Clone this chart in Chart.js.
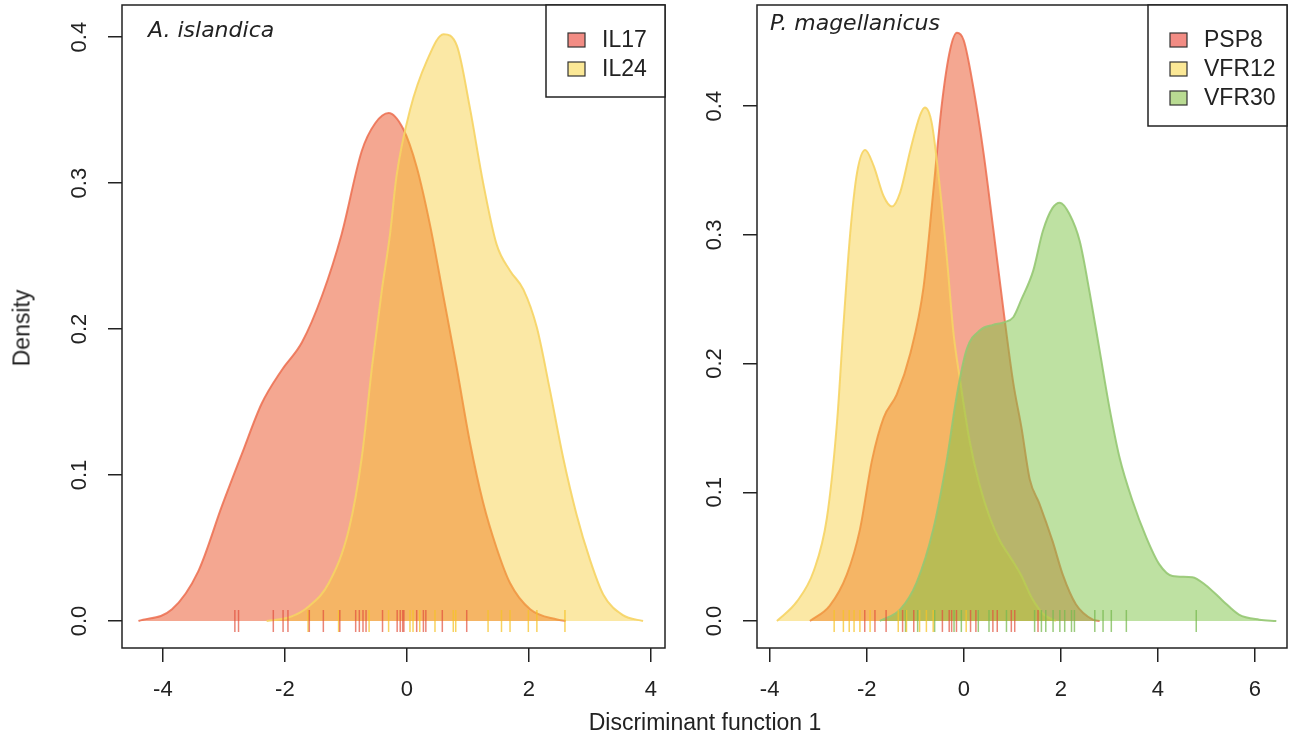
<!DOCTYPE html>
<html>
<head>
<meta charset="utf-8">
<script src="https://cdn.jsdelivr.net/npm/chart.js@4.4.1/dist/chart.umd.min.js"></script>
<style>
  body{margin:0;background:#fff;width:1297px;height:742px;overflow:hidden;position:relative;font-family:"Liberation Sans",Arial,sans-serif;}
  canvas{position:absolute;top:0;}
  #leftChart{left:0;}
  #rightChart{left:680px;}
  .axTitle{position:absolute;color:#222;font-size:23px;white-space:nowrap;}
  #yTitle{left:22px;top:328px;transform:translate(-50%,-50%) rotate(-90deg);}
  #xTitle{left:705px;top:722px;transform:translate(-50%,-50%);}
</style>
</head>
<body>
<canvas id="leftChart" width="680" height="742"></canvas>
<canvas id="rightChart" width="617" height="742"></canvas>
<div class="axTitle" id="yTitle">Density</div>
<div class="axTitle" id="xTitle">Discriminant function 1</div>

<script>
/* ---------- data: A. islandica ---------- */
const il17X = [-4.4,-3.85,-3.42,-3.03,-2.70,-2.38,-2.05,-1.72,-1.39,-1.07,-0.74,-0.52,-0.30,-0.06,0.16,0.38,0.60,0.81,1.03,1.25,1.47,1.69,2.02,2.46,2.6];
const il17Y = [0,0.008,0.034,0.079,0.115,0.149,0.172,0.191,0.223,0.265,0.322,0.341,0.348,0.337,0.311,0.271,0.222,0.175,0.123,0.081,0.050,0.026,0.008,0.001,0];
const il24X = [-2.3,-1.9,-1.61,-1.28,-0.95,-0.74,-0.57,-0.41,-0.28,-0.17,0.05,0.33,0.60,0.82,1.03,1.25,1.47,1.69,1.91,2.13,2.34,2.56,2.78,3.0,3.22,3.54,3.87];
const il24Y = [0,0.003,0.010,0.026,0.063,0.112,0.175,0.227,0.264,0.305,0.350,0.384,0.402,0.394,0.352,0.300,0.258,0.240,0.227,0.201,0.159,0.112,0.073,0.042,0.018,0.004,0];
const il17Rug = [-2.82,-2.76,-2.19,-2.03,-1.95,-1.60,-1.37,-1.10,-0.84,-0.78,-0.72,-0.67,-0.40,-0.16,-0.11,-0.07,-0.05,0.16,0.27,0.31,0.58,0.98];
const il24Rug = [-1.62,-1.12,-0.62,-0.30,0.05,0.10,0.21,0.46,0.76,0.80,1.33,1.55,1.69,1.99,2.13,2.59];

/* ---------- data: P. magellanicus ---------- */
const psp8X = [-3.17,-2.76,-2.41,-2.14,-1.89,-1.65,-1.38,-1.10,-0.83,-0.63,-0.45,-0.28,-0.14,0.0,0.20,0.41,0.61,0.82,1.02,1.19,1.36,1.56,1.83,2.04,2.31,2.66,2.8];
const psp8Y = [0,0.012,0.036,0.071,0.125,0.158,0.176,0.208,0.259,0.333,0.402,0.444,0.457,0.451,0.414,0.363,0.304,0.241,0.185,0.150,0.110,0.091,0.062,0.036,0.013,0.001,0];
const vfr12X = [-3.85,-3.44,-3.09,-2.82,-2.61,-2.48,-2.34,-2.20,-2.03,-1.86,-1.65,-1.48,-1.31,-1.10,-0.90,-0.80,-0.66,-0.49,-0.35,-0.21,-0.08,0.12,0.33,0.54,0.75,0.95,1.19,1.4,1.65,1.9];
const vfr12Y = [0,0.015,0.039,0.080,0.155,0.229,0.301,0.348,0.366,0.354,0.330,0.322,0.333,0.366,0.393,0.399,0.387,0.336,0.283,0.223,0.188,0.140,0.105,0.080,0.062,0.050,0.035,0.018,0.005,0];
const vfr30X = [-1.73,-1.31,-0.97,-0.63,-0.35,-0.14,0.06,0.34,0.6,0.82,1.02,1.19,1.43,1.63,1.83,1.98,2.18,2.39,2.59,2.80,3.00,3.21,3.48,3.76,4.03,4.30,4.71,4.98,5.33,5.67,6.09,6.44];
const vfr30Y = [0,0.009,0.030,0.071,0.125,0.176,0.211,0.226,0.230,0.232,0.236,0.250,0.272,0.303,0.321,0.325,0.316,0.295,0.256,0.210,0.166,0.127,0.093,0.065,0.044,0.035,0.034,0.028,0.016,0.005,0.001,0];
const psp8Rug = [-2.04,-1.83,-1.60,-1.26,-1.03,-0.44,-0.30,-0.25,-0.15,0.14,0.25,0.60,0.69,0.98,1.05,1.53];
const vfr12Rug = [-2.67,-2.48,-2.36,-2.26,-2.14,-1.93,-1.35,-1.18,-0.91,-0.77,-0.63,0.05];
const vfr30Rug = [-1.20,-0.95,-0.60,-0.20,-0.05,0.30,0.52,0.88,1.46,1.60,1.69,1.84,1.98,2.08,2.22,2.28,2.70,2.87,3.04,3.35,4.79];

/* ---------- axes ---------- */
const yTicksLeft = [0,0.1,0.2,0.3,0.4];
const yTicksRight = [0,0.1,0.2,0.3,0.4];
const xTicksLeft = [-4,-2,0,2,4];
const xTicksRight = [-4,-2,0,2,4,6];

const FONT = '"Liberation Sans", Arial, sans-serif';
const INK = '#222';

const RED = {fill:'rgba(235,95,55,0.55)', line:'rgba(236,110,80,0.85)', rug:'rgba(225,80,60,0.7)', key:'#F28C84'};
const YEL = {fill:'rgba(245,200,40,0.42)', line:'rgba(246,212,100,0.9)', rug:'rgba(245,195,40,0.75)', key:'#FBE896'};
const GRN = {fill:'rgba(125,195,70,0.5)', line:'rgba(150,200,115,0.9)', rug:'rgba(120,185,80,0.75)', key:'#B9DB92'};

function pts(xs, ys){ return xs.map((x,i)=>({x:x, y:ys[i]})); }
function rug(xs){ return xs.map(x=>({x:x, y:0})); }

function densitySet(label, xs, ys, col, order){
    return {
        type:'line', label:label, data:pts(xs,ys), order:order,
        borderColor:col.line, backgroundColor:col.fill, borderWidth:2,
        fill:'origin', pointRadius:0, cubicInterpolationMode:'monotone'
    };
}

function rugSet(xs, col){
    return {
        type:'scatter', data:rug(xs), order:0,
        pointStyle:'line', rotation:90, pointRadius:11,
        borderColor:col.rug, backgroundColor:col.rug, borderWidth:1.5
    };
}

/* box, rotated y labels, italic title and legend in R style */
const rStyle = {
    id:'rStyle',
    afterDraw(chart, args, opts){
        const ctx = chart.ctx;
        const a = chart.chartArea;
        const ys = chart.scales.y;
        ctx.save();

        // y tick labels (rotated like R)
        ctx.fillStyle = INK;
        ctx.font = '22px ' + FONT;
        ctx.textAlign = 'center';
        ctx.textBaseline = 'alphabetic';
        opts.yTicks.forEach(v=>{
            const py = ys.getPixelForValue(v);
            ctx.save();
            ctx.translate(a.left - 36, py);
            ctx.rotate(-Math.PI/2);
            ctx.fillText(v.toFixed(1), 0, 0);
            ctx.restore();
        });

        // plot box
        ctx.strokeStyle = INK;
        ctx.lineWidth = 1.5;
        ctx.strokeRect(a.left, a.top, a.right - a.left, a.bottom - a.top);

        // panel title
        ctx.font = 'italic 22px "DejaVu Sans", sans-serif';
        ctx.textAlign = 'left';
        ctx.fillText(opts.title, a.left + opts.titleDx, opts.titleY);

        // legend
        const sets = chart.data.datasets.filter(d=>d.type==='line');
        const lw = opts.legendW, lh = 29 * sets.length + 34;
        const lx = a.right - lw, ly = a.top;
        ctx.fillStyle = '#fff';
        ctx.fillRect(lx, ly, lw, lh);
        ctx.strokeRect(lx, ly, lw, lh);
        ctx.font = '23px ' + FONT;
        ctx.textBaseline = 'middle';
        sets.forEach((d,i)=>{
            const cy = ly + 35 + i*29;
            ctx.fillStyle = d.keyColor;
            ctx.fillRect(lx + 22, cy - 7, 17, 14);
            ctx.lineWidth = 1.2;
            ctx.strokeStyle = '#333';
            ctx.strokeRect(lx + 22, cy - 7, 17, 14);
            ctx.fillStyle = INK;
            ctx.fillText(d.label, lx + 56, cy + 1);
        });
        ctx.restore();
    }
};

function makeChart(id, datasets, cfg){
    return new Chart(document.getElementById(id), {
        type:'line',
        data:{ datasets:datasets },
        plugins:[rStyle],
        options:{
            responsive:false,
            animation:false,
            events:[],
            layout:{ autoPadding:false, padding:{ top:5, right:cfg.padRight, left:0, bottom:0 } },
            plugins:{
                legend:{ display:false },
                tooltip:{ enabled:false },
                rStyle:{ yTicks:cfg.yTicks, title:cfg.title, titleDx:cfg.titleDx, titleY:cfg.titleY, legendW:cfg.legendW }
            },
            scales:{
                x:{
                    type:'linear', min:cfg.xMin, max:cfg.xMax,
                    afterBuildTicks:s=>{ s.ticks = cfg.xTicks.map(v=>({value:v})); },
                    afterFit:s=>{ s.height = 94; },
                    grid:{ drawOnChartArea:false, drawTicks:true, tickLength:14, color:INK, lineWidth:1.5 },
                    border:{ display:false },
                    ticks:{ color:INK, font:{ family:FONT, size:22 }, padding:15, maxRotation:0, autoSkip:false,
                            callback:v=>String(v) }
                },
                y:{
                    type:'linear', min:cfg.yMin, max:cfg.yMax,
                    afterBuildTicks:s=>{ s.ticks = cfg.yTicks.map(v=>({value:v})); },
                    afterFit:s=>{ s.width = cfg.yWidth; },
                    grid:{ drawOnChartArea:false, drawTicks:true, tickLength:14, color:INK, lineWidth:1.5 },
                    border:{ display:false },
                    ticks:{ display:false }
                }
            }
        }
    });
}

const leftSets = [
    Object.assign(densitySet('IL17', il17X, il17Y, RED, 3), {keyColor:RED.key}),
    Object.assign(densitySet('IL24', il24X, il24Y, YEL, 2), {keyColor:YEL.key}),
    rugSet(il17Rug, RED),
    rugSet(il24Rug, YEL)
];

const rightSets = [
    Object.assign(densitySet('PSP8', psp8X, psp8Y, RED, 3), {keyColor:RED.key}),
    Object.assign(densitySet('VFR12', vfr12X, vfr12Y, YEL, 2), {keyColor:YEL.key}),
    Object.assign(densitySet('VFR30', vfr30X, vfr30Y, GRN, 1), {keyColor:GRN.key}),
    rugSet(psp8Rug, RED),
    rugSet(vfr12Rug, YEL),
    rugSet(vfr30Rug, GRN)
];

makeChart('leftChart', leftSets, {
    xMin:-4.67, xMax:4.23, yMin:-0.0185, yMax:0.422,
    xTicks:xTicksLeft, yTicks:yTicksLeft, yWidth:122, padRight:15,
    title:'A. islandica', titleDx:26, titleY:37, legendW:119
});

makeChart('rightChart', rightSets, {
    xMin:-4.26, xMax:6.66, yMin:-0.021, yMax:0.4786,
    xTicks:xTicksRight, yTicks:yTicksRight, yWidth:77, padRight:10,
    title:'P. magellanicus', titleDx:13, titleY:30, legendW:139
});
</script>
</body>
</html>
